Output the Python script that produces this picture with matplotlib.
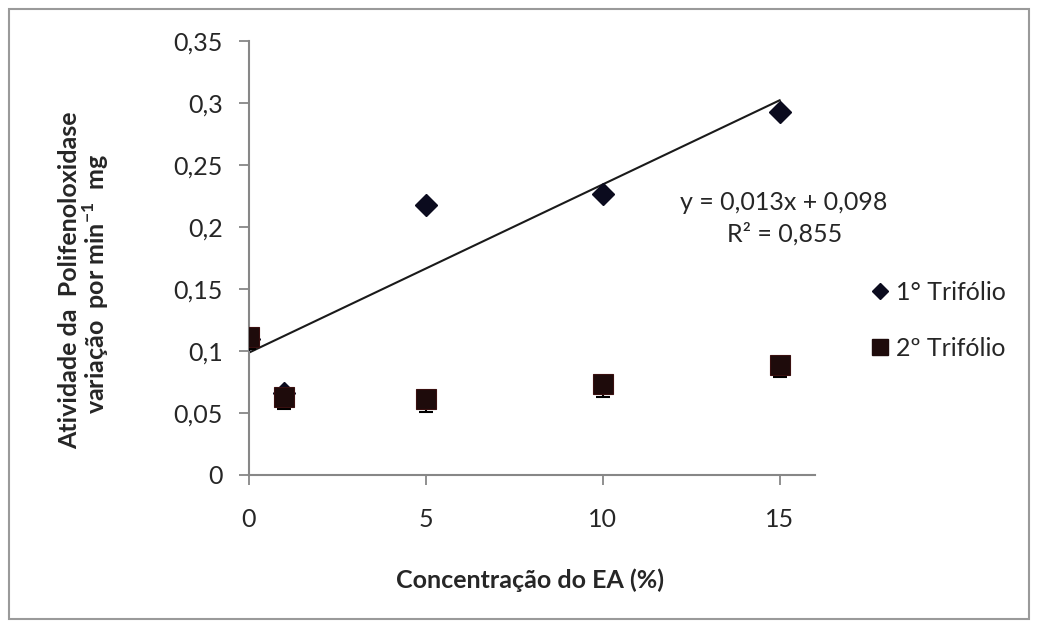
import numpy as np
import matplotlib
matplotlib.use("Agg")
import matplotlib.pyplot as plt
from matplotlib.lines import Line2D
from matplotlib.patches import Rectangle

plt.rcParams['font.family'] = ['Lato', 'DejaVu Sans']
plt.rcParams['mathtext.fontset'] = 'custom'
plt.rcParams['mathtext.rm'] = 'Lato'
plt.rcParams['mathtext.bf'] = 'Lato:bold'

# Data
conc = [0, 1, 5, 10, 15]
trif1 = [0.110, 0.066, 0.218, 0.227, 0.293]
trif2 = [0.1115, 0.063, 0.061, 0.073, 0.089]
trif2_err_low = [0.010, 0.010, 0.010, 0.010, 0.010]
xticks = [0, 5, 10, 15]
yticks = [0, 0.05, 0.1, 0.15, 0.2, 0.25, 0.3, 0.35]
ytick_labels = ['0', '0,05', '0,1', '0,15', '0,2', '0,25', '0,3', '0,35']
series_names = ['1° Trifólio', '2º Trifólio']
eq_text = 'y = 0,013x + 0,098'
r2_text = 'R² = 0,855'

W, H = 1038, 628
fig = plt.figure(figsize=(W / 100, H / 100), dpi=100)
fig.patch.set_facecolor('white')

def fx(px):
    return px / W

def fy(py):
    return 1 - py / H

ax = fig.add_axes([fx(249), fy(475), fx(815) - fx(249), fy(41) - fy(475)])

grey = '#878787'
txt = '#262626'
c1 = '#0b0b1e'
c2 = '#1e0b0b'
FS = 18

# trendline for series 1
coef = np.polyfit(conc, trif1, 1)
xl = np.array([min(conc), max(conc)])
ax.plot(xl, np.polyval(coef, xl), color='#1a1a1a', lw=1.5, zorder=2)

ax.plot(conc, trif1, ls='none', marker='D', ms=11, color=c1, zorder=3)
ax.errorbar(conc, trif2, yerr=[trif2_err_low, [0] * len(conc)], fmt='none',
            ecolor='black', elinewidth=1.5, capsize=5, capthick=1.5, zorder=3)
ax.plot(conc, trif2, ls='none', marker='s', ms=14, color=c2,
        markeredgecolor='#3a1010', markeredgewidth=0.8, zorder=4)

ax.set_xlim(0, 16)
ax.set_ylim(0, 0.35)
ax.set_xticks(xticks)
ax.set_xticklabels([str(t) for t in xticks])
ax.set_yticks(yticks)
ax.set_yticklabels(ytick_labels)

for s in ['top', 'right']:
    ax.spines[s].set_visible(False)
for s in ['left', 'bottom']:
    ax.spines[s].set_color(grey)
    ax.spines[s].set_linewidth(1.5)
ax.tick_params(axis='both', colors=grey, labelcolor=txt, labelsize=FS,
               direction='out', length=7, width=1.3)
ax.tick_params(axis='y', pad=12)
ax.tick_params(axis='x', pad=17)

# axis labels
fig.text(fx(530), fy(580), 'Concentração do EA (%)', ha='center', va='center',
         fontsize=FS, fontweight='bold', color=txt)
fig.text(fx(70), fy(280), 'Atividade da  Polifenoloxidase', rotation=90,
         ha='center', va='center', fontsize=FS, fontweight='bold', color=txt)
fig.text(fx(96), fy(284), r'variação  por min$^{\mathbf{-1}}$  mg', rotation=90,
         ha='center', va='center', fontsize=FS, fontweight='bold', color=txt)

# equation
fig.text(fx(784), fy(202), eq_text, ha='center', va='center', fontsize=FS, color=txt)
fig.text(fx(785), fy(234), r2_text, ha='center', va='center', fontsize=FS, color=txt)

# legend
handles = [Line2D([], [], ls='none', marker='D', ms=8, color=c1),
           Line2D([], [], ls='none', marker='s', ms=11, color=c2)]
leg = fig.legend(handles, series_names, loc='upper left',
                 bbox_to_anchor=(fx(870), fy(281)), frameon=False, fontsize=FS,
                 handlelength=0.8, handletextpad=0.25, labelspacing=1.3,
                 borderaxespad=0, borderpad=0)
for t in leg.get_texts():
    t.set_color(txt)

# outer frame
fig.add_artist(Rectangle((fx(9), fy(619)), fx(1029) - fx(9), fy(9) - fy(619),
                         transform=fig.transFigure, fill=False, edgecolor='#9a9a9a', lw=1.5))

fig.savefig('out.png', dpi=100)
